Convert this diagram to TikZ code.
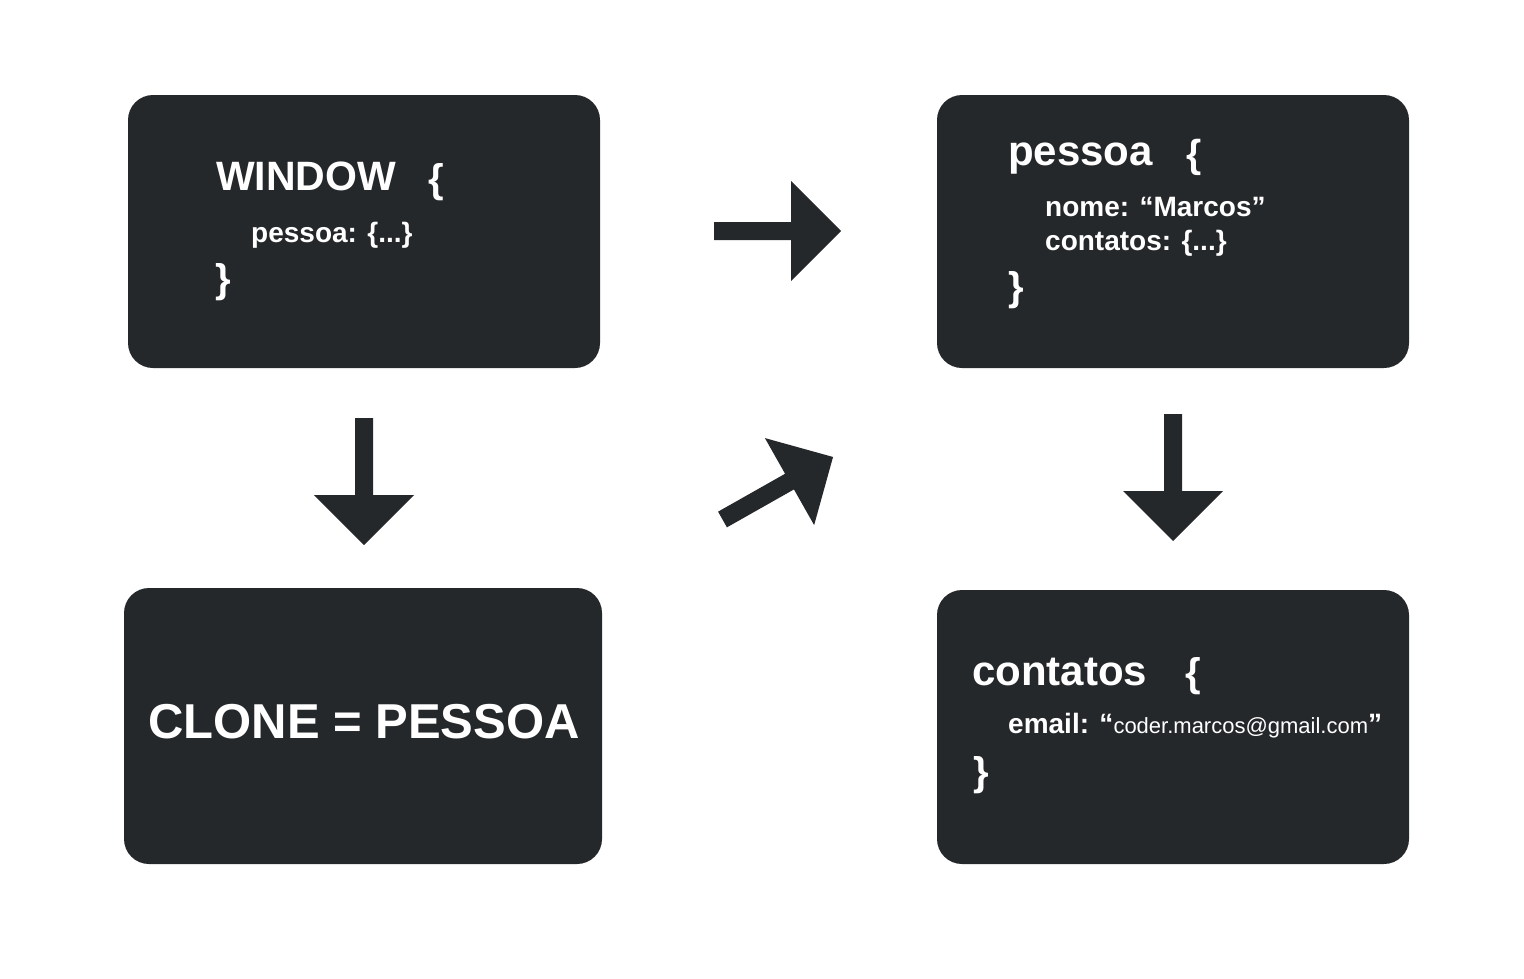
\documentclass[tikz,border=0pt]{standalone}
\usepackage{fontspec}
\setmainfont{Liberation Sans}
\definecolor{boxdark}{RGB}{37,40,43}
\begin{document}
\begin{tikzpicture}[x=1pt,y=-1pt,
  box/.style={fill=boxdark, draw=none, rounded corners=25pt, inner sep=0pt},
  txt/.style={text=white, anchor=base west, inner sep=0pt},
  blockarrow/.pic={\fill[boxdark] (0,-9) -- (77,-9) -- (77,-50) -- (127,0) -- (77,50) -- (77,9) -- (0,9) -- cycle;}
]
\useasboundingbox (0,0) rectangle (1524,978);
\fill[white] (0,0) rectangle (1524,978);

% boxes
\node[box, minimum width=472pt, minimum height=273pt] (window) at (364,231.5) {};
\node[box, minimum width=472pt, minimum height=273pt] (pessoa) at (1173,231.5) {};
\node[box, minimum width=478pt, minimum height=276pt] (clone) at (363,726) {};
\node[box, minimum width=472pt, minimum height=274pt] (contatos) at (1173,727) {};

% window box text
\node[txt, font=\fontsize{41}{41}\selectfont\bfseries] (wt) at (216,190) {WINDOW};
\node[txt, font=\fontsize{40}{40}\selectfont\bfseries] (wo) at (428,192) {\{};
\node[txt, font=\fontsize{28}{28}\selectfont\bfseries] (wp) at (251,242) {pessoa: \{...\}};
\node[txt, font=\fontsize{40}{40}\selectfont\bfseries] (wc) at (215,292) {\}};

% pessoa box text
\node[txt, font=\fontsize{42}{42}\selectfont\bfseries] (pt) at (1008,165) {pessoa};
\node[txt, font=\fontsize{39}{39}\selectfont\bfseries] (po) at (1186,167) {\{};
\node[txt, font=\fontsize{28}{28}\selectfont\bfseries] (pn) at (1045,216) {nome: “Marcos”};
\node[txt, font=\fontsize{28}{28}\selectfont\bfseries] (pc) at (1045,250) {contatos: \{...\}};
\node[txt, font=\fontsize{40}{40}\selectfont\bfseries] (pe) at (1008,300) {\}};

% clone box text
\node[txt, font=\fontsize{49}{49}\selectfont\bfseries] (ct) at (148,738) {CLONE = PESSOA};

% contatos box text
\node[txt, font=\fontsize{42}{42}\selectfont\bfseries] (kt) at (972,685) {contatos};
\node[txt, font=\fontsize{40}{40}\selectfont\bfseries] (ko) at (1185,686) {\{};
\node[txt] (ke) at (1008,733) {{\fontsize{28}{28}\selectfont\bfseries email: “}{\fontsize{22}{22}\selectfont coder.marcos@gmail.com}{\fontsize{28}{28}\selectfont\bfseries ”}};
\node[txt, font=\fontsize{40}{40}\selectfont\bfseries] (kc) at (973,785) {\}};

% arrows
\coordinate (a1) at (364,418);
\coordinate (a2) at (714,231);
\coordinate (a3) at (722.5,519.5);
\coordinate (a4) at (1173,414);
\pic[rotate=-90] at (a1) {blockarrow};
\pic at (a2) {blockarrow};
\pic[rotate=29.5] at (a3) {blockarrow};
\pic[rotate=-90] at (a4) {blockarrow};
\end{tikzpicture}
\end{document}
